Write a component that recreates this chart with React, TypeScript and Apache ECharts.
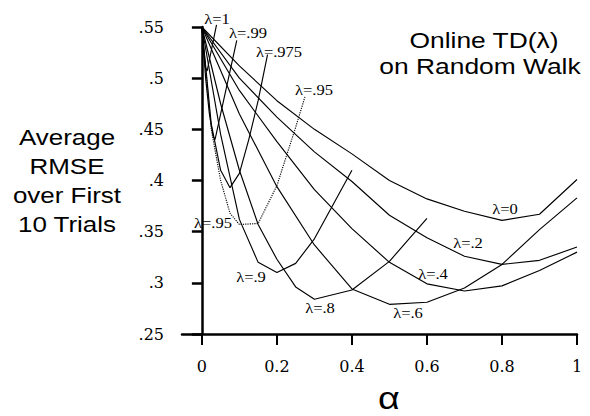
import React, { useEffect, useRef } from "react";
import * as echarts from "echarts";

// alpha grids
const ALPHA_FULL = [0, 0.1, 0.2, 0.3, 0.4, 0.5, 0.6, 0.7, 0.8, 0.9, 1.0];
const ALPHA_L08 = [0, 0.05, 0.1, 0.15, 0.2, 0.25, 0.3, 0.4, 0.5, 0.6];
const ALPHA_L09 = [0, 0.05, 0.1, 0.15, 0.2, 0.25, 0.3, 0.4];
const ALPHA_L095 = [0, 0.025, 0.05, 0.075, 0.1, 0.15, 0.2, 0.25, 0.275];
const ALPHA_L0975 = [0, 0.025, 0.05, 0.075, 0.1, 0.125, 0.15, 0.175];
const ALPHA_L099 = [0, 0.01, 0.02, 0.03, 0.035, 0.093];
const ALPHA_L1 = [0, 0.005, 0.01, 0.014, 0.039];

// RMSE values per lambda
const RMSE_L0 = [0.55, 0.512, 0.478, 0.45, 0.426, 0.4, 0.382, 0.37, 0.361, 0.367, 0.401];
const RMSE_L02 = [0.55, 0.5, 0.462, 0.428, 0.399, 0.366, 0.344, 0.326, 0.318, 0.322, 0.335];
const RMSE_L04 = [0.55, 0.488, 0.438, 0.391, 0.353, 0.32, 0.299, 0.292, 0.297, 0.312, 0.33];
const RMSE_L06 = [0.55, 0.465, 0.394, 0.337, 0.294, 0.279, 0.281, 0.295, 0.318, 0.352, 0.383];
const RMSE_L08 = [0.55, 0.475, 0.41, 0.357, 0.323, 0.296, 0.284, 0.293, 0.321, 0.363];
const RMSE_L09 = [0.55, 0.445, 0.362, 0.32, 0.31, 0.319, 0.343, 0.41];
const RMSE_L095 = [0.55, 0.45, 0.4, 0.368, 0.357, 0.358, 0.395, 0.452, 0.482];
const RMSE_L0975 = [0.55, 0.455, 0.41, 0.393, 0.407, 0.44, 0.478, 0.523];
const RMSE_L099 = [0.55, 0.5, 0.465, 0.443, 0.44, 0.537];
const RMSE_L1 = [0.55, 0.525, 0.51, 0.507, 0.552];

const X_TICKS = [0, 0.2, 0.4, 0.6, 0.8, 1];

const CURVES = [
  { name: "λ=0", a: ALPHA_FULL, v: RMSE_L0, dotted: false },
  { name: "λ=.2", a: ALPHA_FULL, v: RMSE_L02, dotted: false },
  { name: "λ=.4", a: ALPHA_FULL, v: RMSE_L04, dotted: false },
  { name: "λ=.6", a: ALPHA_FULL, v: RMSE_L06, dotted: false },
  { name: "λ=.8", a: ALPHA_L08, v: RMSE_L08, dotted: false },
  { name: "λ=.9", a: ALPHA_L09, v: RMSE_L09, dotted: false },
  { name: "λ=.95", a: ALPHA_L095, v: RMSE_L095, dotted: true },
  { name: "λ=.975", a: ALPHA_L0975, v: RMSE_L0975, dotted: false },
  { name: "λ=.99", a: ALPHA_L099, v: RMSE_L099, dotted: false },
  { name: "λ=1", a: ALPHA_L1, v: RMSE_L1, dotted: false },
];

const CURVE_LABELS = [
  { t: "λ=1", x: 217, y: 19 },
  { t: "λ=.99", x: 248, y: 33 },
  { t: "λ=.975", x: 279, y: 52 },
  { t: "λ=.95", x: 314, y: 90 },
  { t: "λ=.95", x: 213, y: 223 },
  { t: "λ=.9", x: 251, y: 277 },
  { t: "λ=.8", x: 320, y: 308 },
  { t: "λ=.6", x: 408, y: 313 },
  { t: "λ=.4", x: 433, y: 274 },
  { t: "λ=.2", x: 468, y: 243 },
  { t: "λ=0", x: 505, y: 209 },
];

export default function App() {
  const ref = useRef<HTMLDivElement>(null);
  useEffect(() => {
    if (!ref.current) return;
    const chart = echarts.init(ref.current, undefined, { renderer: "svg" });
    const serif = "'Liberation Serif', 'Times New Roman', serif";
    const sans = "'Liberation Sans', Arial, sans-serif";
    const graphic: any[] = [];
    CURVE_LABELS.forEach((l) => {
      graphic.push({
        type: "text",
        x: l.x,
        y: l.y,
        scaleX: 1.18,
        silent: true,
        style: {
          text: l.t,
          fill: "#000",
          font: `14px ${serif}`,
          textAlign: "center",
          textVerticalAlign: "middle",
        },
      });
    });
    graphic.push({
      type: "text",
      x: 484,
      y: 40,
      scaleX: 1.2,
      silent: true,
      style: { text: "Online TD(λ)", fill: "#000", font: `22px ${sans}`, textAlign: "center", textVerticalAlign: "middle" },
    });
    graphic.push({
      type: "text",
      x: 480,
      y: 66,
      scaleX: 1.2,
      silent: true,
      style: { text: "on Random Walk", fill: "#000", font: `22px ${sans}`, textAlign: "center", textVerticalAlign: "middle" },
    });
    graphic.push({
      type: "text",
      x: 67,
      y: 181,
      scaleX: 1.18,
      silent: true,
      style: {
        text: "Average\nRMSE\nover First\n10 Trials",
        fill: "#000",
        font: `22px ${sans}`,
        lineHeight: 29,
        textAlign: "center",
        textVerticalAlign: "middle",
      },
    });
    graphic.push({
      type: "text",
      x: 389,
      y: 398,
      scaleX: 1.18,
      silent: true,
      style: { text: "α", fill: "#000", font: `32px ${sans}`, textAlign: "center", textVerticalAlign: "middle" },
    });

    chart.setOption({
      animation: false,
      backgroundColor: "#fff",
      grid: { left: 182, right: 13, top: 27, bottom: 82, outerBoundsMode: "none" } as any,
      xAxis: {
        type: "value",
        min: -0.053,
        max: 1,
        splitLine: { show: false },
        axisLine: { show: true, lineStyle: { color: "#000", width: 2.5 } },
        axisTick: { show: true, customValues: X_TICKS, length: 11, lineStyle: { color: "#000", width: 2 } },
        axisLabel: {
          customValues: X_TICKS,
          margin: 24,
          color: "#000",
          fontFamily: "'DejaVu Serif', serif",
          fontSize: 16,
          formatter: (v: number) => String(Math.round(v * 10) / 10),
        },
      } as any,
      yAxis: {
        type: "value",
        min: 0.25,
        max: 0.55,
        interval: 0.05,
        splitLine: { show: false },
        axisLine: { show: true, lineStyle: { color: "#000", width: 2.5 } },
        axisTick: { show: true, length: 10, lineStyle: { color: "#000", width: 2.5 } },
        axisLabel: {
          margin: 18,
          color: "#000",
          fontFamily: "'DejaVu Serif', serif",
          fontSize: 16,
          formatter: (v: number) => String(Math.round(v * 100) / 100).replace(/^0\./, "."),
        },
      },
      series: CURVES.map((c) => ({
        name: c.name,
        type: "line",
        data: c.a.map((a, i) => [a, c.v[i]]),
        symbol: "none",
        clip: false,
        silent: true,
        lineStyle: { color: "#000", width: 1.15, type: c.dotted ? "dotted" : "solid" },
      })),
      graphic,
    });
    return () => chart.dispose();
  }, []);
  return (
    <div
      ref={ref}
      style={{ position: "absolute", left: 0, top: 0, width: 590, height: 416, background: "#fff" }}
    />
  );
}
